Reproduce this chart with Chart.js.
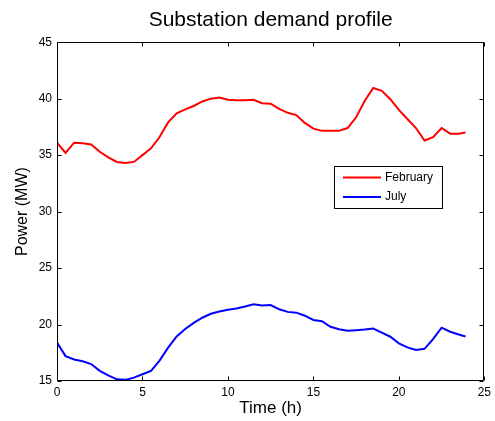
<!DOCTYPE html>
<html>
<head>
<meta charset="utf-8">
<script src="https://cdn.jsdelivr.net/npm/chart.js@4.4.1/dist/chart.umd.min.js"></script>
<style>
  html, body { margin: 0; padding: 0; background: #fff; }
  #wrap { width: 495px; height: 421px; }
</style>
</head>
<body>
<div id="wrap"><canvas id="chart" width="495" height="421"></canvas></div>
<script>
// ── Data ──────────────────────────────────────────────────────
const HOURS = [
  0, 0.5, 1, 1.5, 2, 2.5, 3, 3.5, 4, 4.5, 5, 5.5, 6, 6.5, 7, 7.5,
  8, 8.5, 9, 9.5, 10, 10.5, 11, 11.5, 12, 12.5, 13, 13.5, 14, 14.5, 15, 15.5,
  16, 16.5, 17, 17.5, 18, 18.5, 19, 19.5, 20, 20.5, 21, 21.5, 22, 22.5, 23, 23.5, 23.9
];
const FEBRUARY = [
  36.1, 35.2, 36.1, 36.05, 35.95, 35.3, 34.8, 34.4, 34.3, 34.4, 35.0, 35.6, 36.6, 37.9, 38.7, 39.05,
  39.35, 39.75, 40.0, 40.1, 39.9, 39.85, 39.85, 39.9, 39.6, 39.55, 39.1, 38.75, 38.55, 37.85, 37.35, 37.15,
  37.15, 37.15, 37.4, 38.35, 39.8, 40.95, 40.7, 39.95, 39.0, 38.2, 37.4, 36.3, 36.6, 37.4, 36.9, 36.9, 37.0
];
const JULY = [
  18.4, 17.2, 16.9, 16.75, 16.5, 15.9, 15.5, 15.15, 15.1, 15.3, 15.6, 15.9, 16.8, 17.95, 18.95, 19.6,
  20.15, 20.6, 20.95, 21.15, 21.3, 21.42, 21.6, 21.8, 21.68, 21.72, 21.35, 21.12, 21.05, 20.78, 20.4, 20.3,
  19.8, 19.58, 19.45, 19.5, 19.55, 19.65, 19.28, 18.92, 18.33, 17.98, 17.74, 17.85, 18.7, 19.72, 19.36, 19.12, 18.94
];
const SERIES_LABELS = ['February', 'July'];
const SERIES_COLORS = ['#ff0000', '#0000ff'];
const X_RANGE = [0, 25];
const Y_RANGE = [15, 45];
const TICK_STEP = 5;

const FONT = 'Liberation Sans, Arial, Helvetica, sans-serif';

const toPoints = vals => vals.map((v, i) => ({ x: HOURS[i], y: v }));

// Boîte MATLAB : cadre, ticks vers l'intérieur, légende encadrée
const framePlugin = {
  id: 'frame',
  afterDatasetsDraw(chart) {
    const { ctx, chartArea: a, scales } = chart;
    const L = Math.round(a.left) + 0.5, R = Math.round(a.right) - 0.5;
    const T = Math.round(a.top) + 0.5, B = Math.round(a.bottom) - 0.5;
    const len = 4;
    ctx.save();
    ctx.strokeStyle = '#000';
    ctx.lineWidth = 1;
    ctx.beginPath();
    ctx.rect(L, T, R - L, B - T);
    scales.x.ticks.forEach(t => {
      const px = Math.round(scales.x.getPixelForValue(t.value)) + 0.5;
      ctx.moveTo(px, B); ctx.lineTo(px, B - len);
      ctx.moveTo(px, T); ctx.lineTo(px, T + len);
    });
    scales.y.ticks.forEach(t => {
      const py = Math.round(scales.y.getPixelForValue(t.value)) + 0.5;
      ctx.moveTo(L, py); ctx.lineTo(L + len, py);
      ctx.moveTo(R, py); ctx.lineTo(R - len, py);
    });
    ctx.stroke();

    // Légende
    const bx = 334.5, by = 166.5, bw = 108, bh = 42;
    ctx.fillStyle = '#fff';
    ctx.fillRect(bx, by, bw, bh);
    ctx.strokeRect(bx, by, bw, bh);
    ctx.font = '12px ' + FONT;
    ctx.textBaseline = 'middle';
    chart.data.datasets.forEach((ds, i) => {
      const ly = 177.5 + i * 19.5;
      ctx.beginPath();
      ctx.strokeStyle = ds.borderColor;
      ctx.lineWidth = 2;
      ctx.moveTo(343, ly); ctx.lineTo(381, ly);
      ctx.stroke();
      ctx.fillStyle = '#000';
      ctx.fillText(ds.label, 385, ly);
    });
    ctx.restore();
  },
};

new Chart(document.getElementById('chart'), {
  type: 'line',
  plugins: [framePlugin],
  data: {
    datasets: [
      { label: SERIES_LABELS[0], data: toPoints(FEBRUARY), borderColor: SERIES_COLORS[0] },
      { label: SERIES_LABELS[1], data: toPoints(JULY), borderColor: SERIES_COLORS[1] },
    ].map(d => ({ ...d, borderWidth: 2, pointRadius: 0, tension: 0, fill: false })),
  },
  options: {
    responsive: false,
    animation: false,
    devicePixelRatio: 1,
    layout: { padding: { left: 0, right: 6, top: 0, bottom: 0 } },
    plugins: {
      legend: { display: false },
      tooltip: { enabled: false },
      title: {
        display: true,
        fullSize: false,
        text: 'Substation demand profile',
        color: '#000',
        font: { family: FONT, size: 21, weight: 'normal' },
        padding: { top: 8, bottom: 9 },
      },
    },
    scales: {
      x: {
        type: 'linear',
        min: X_RANGE[0],
        max: X_RANGE[1],
        afterFit: s => { s.height = 40; },
        grid: { display: false, drawTicks: false },
        border: { display: false },
        ticks: { stepSize: TICK_STEP, color: '#000', padding: 4, maxRotation: 0, font: { family: FONT, size: 12 } },
        title: { display: true, text: 'Time (h)', color: '#000', padding: { top: 0, bottom: 2 }, font: { family: FONT, size: 17 } },
      },
      y: {
        type: 'linear',
        min: Y_RANGE[0],
        max: Y_RANGE[1],
        afterFit: s => { s.width = 57; },
        grid: { display: false, drawTicks: false },
        border: { display: false },
        ticks: { stepSize: TICK_STEP, color: '#000', padding: 5, font: { family: FONT, size: 12 } },
        title: { display: true, text: 'Power (MW)', color: '#000', padding: { top: 13, bottom: 0 }, font: { family: FONT, size: 16 } },
      },
    },
  },
});
</script>
</body>
</html>
